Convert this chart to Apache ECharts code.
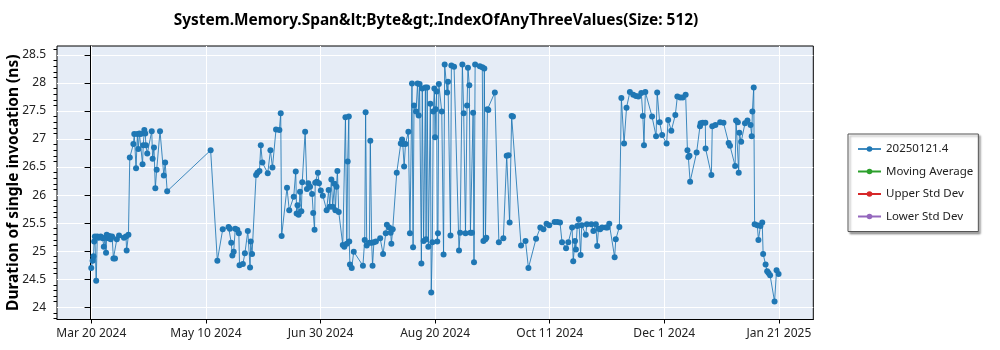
<!DOCTYPE html>
<html>
<head>
<meta charset="utf-8">
<script src="https://cdn.jsdelivr.net/npm/echarts@6/dist/echarts.min.js"></script>
<style>
html,body{margin:0;padding:0;background:#fff;}
#chart{width:1000px;height:350px;}
</style>
</head>
<body>
<div id="chart"></div>
<script>
// Day numbering: day 0 = 2024-03-20 00:00 UTC
const START_UTC = Date.UTC(2024, 2, 20);

// Days since 2024-03-20 for each run
const days = [
  0.3, 0.9, 1.3, 1.6, 1.9, 2.5, 3.0, 3.6, 4.5, 5.4, 5.9, 6.5, 6.9, 7.2, 8.0, 8.4, 9.0, 9.6, 10.2, 10.9,
  11.7, 12.7, 14.9, 15.8, 16.1, 16.9, 17.5, 19.1, 19.5, 20.3, 20.9, 21.3, 21.8, 22.4, 23.2, 23.5, 24.0, 24.4, 24.7, 25.3,
  27.3, 27.7, 28.3, 28.9, 29.5, 31.0, 32.7, 33.3, 34.2, 53.6,
  56.6, 59.0, 61.6, 62.2, 62.8, 63.3, 63.9, 64.6, 65.5, 66.2, 66.5, 68.0, 68.9, 70.2, 71.2, 71.5, 72.1,
  73.9, 74.5, 75.4, 76.0, 76.7, 79.1, 80.3, 81.2, 82.8, 84.3, 84.9, 85.3, 87.7, 88.7, 90.7, 91.6, 92.0, 92.4,
  92.9, 93.5, 94.1, 94.5, 95.8, 96.6, 97.2, 98.0, 98.9, 99.4, 100.0, 100.3, 101.0, 101.5, 102.0, 102.8, 103.7,
  105.4, 106.3, 106.8, 107.5, 108.1, 108.9, 109.3, 109.8, 110.2, 110.8, 112.6, 113.3, 113.8, 114.4, 114.8, 115.3,
  115.5, 115.8, 116.6, 117.5, 121.6, 122.4, 122.8, 123.3, 124.5, 124.9, 125.5, 125.9, 126.5, 127.4, 129.3, 130.6,
  131.8, 132.3, 133.3, 134.0, 134.3, 134.9, 136.7,
  138.5, 139.1, 139.4, 140.0, 140.6, 141.9, 142.6, 143.5, 144.0, 144.4, 145.3, 146.0, 146.5, 146.9, 147.7, 148.1,
  148.7, 149.5, 149.8, 150.3, 150.8, 151.7, 152.1, 152.6, 153.0, 153.5, 153.8, 154.1, 154.5, 154.8, 155.1, 155.5,
  156.8, 157.6, 158.1, 159.2, 159.6, 160.7, 161.1, 162.3, 164.5, 165.0, 166.0, 166.6, 167.4, 168.1, 168.5, 169.1,
  169.6, 170.3, 170.8, 171.2, 171.7, 173.8, 174.9, 175.4, 175.8, 176.3, 176.7, 177.2, 177.6, 180.5, 182.3, 184.3,
  185.8, 186.6, 187.1, 188.0, 188.6, 192.2, 194.2, 195.5, 198.9, 200.8, 202.2, 203.6, 204.8,
  207.2, 208.4, 209.6, 210.5, 212.3, 213.3, 215.0, 215.5, 216.3, 216.7, 217.3, 218.0, 218.8, 219.3, 221.1, 221.6,
  223.6, 224.5, 225.6, 226.2, 226.8, 227.5, 228.4, 230.1, 230.8, 231.6, 234.0, 234.5, 236.1,
  237.0, 238.2, 239.3, 240.8, 242.3, 243.5, 244.6, 245.9, 246.6, 247.1, 247.7, 250.7, 252.5, 253.0, 254.1, 255.2,
  257.2, 257.9, 259.3, 261.1, 262.0, 263.3, 264.4, 265.7, 266.5, 266.9, 267.4, 267.7, 270.6, 272.1,
  272.4, 273.3, 274.5, 274.6, 277.2, 277.6, 279.0, 281.1, 282.6, 284.9, 285.5, 287.8, 288.2, 289.0, 289.4, 289.7,
  290.5, 292.2, 293.3, 294.7, 295.2, 295.5, 296.1,
  296.5, 297.7, 298.2, 299.1, 299.9, 300.3, 301.4, 302.1, 302.7, 303.4, 305.4, 306.3, 307.2
];

// Duration of single invocation (ns)
const values = [
  24.70, 24.83, 24.91, 25.17, 25.26, 24.47, 25.26, 25.24, 25.26, 25.23, 25.08, 25.24, 24.97, 25.29, 25.23, 25.27, 25.21, 25.26, 24.87, 24.87,
  25.21, 25.28, 25.24, 25.26, 25.01, 25.29, 26.67, 26.91, 27.09, 26.48, 27.09, 26.82, 27.10, 27.09, 26.55, 26.89, 27.16, 27.10, 26.89, 26.74,
  27.14, 26.65, 26.85, 26.12, 26.45, 27.14, 26.35, 26.58, 26.07, 26.80,
  24.83, 25.39, 25.43, 25.40, 25.15, 24.92, 24.99, 25.40, 25.38, 25.32, 24.75, 24.77, 24.96, 25.36, 24.71, 25.17, 24.95,
  26.36, 26.40, 26.43, 26.89, 26.58, 26.39, 26.80, 26.49, 27.17, 27.16, 27.46, 25.27, 26.13, 25.73, 25.97, 26.42, 25.67, 25.82,
  25.65, 26.06, 25.71, 26.23, 27.13, 26.11, 26.21, 26.15, 26.02, 25.68, 25.38, 26.22, 26.24, 26.40, 26.21, 26.08, 25.99,
  25.73, 26.09, 25.79, 26.28, 25.79, 26.20, 25.73, 26.15, 26.43, 25.70, 25.11, 25.08, 27.39, 25.13, 26.60, 27.40,
  25.17, 24.76, 24.70, 24.99, 24.74, 25.20, 27.48, 25.10, 25.15, 26.97, 25.15, 24.74, 25.16, 25.17, 25.23, 24.95,
  25.32, 25.47, 25.42, 25.33, 25.13, 25.39, 26.40,
  26.92, 26.99, 26.91, 26.51, 26.91, 27.13, 25.32, 27.99, 25.07, 27.60, 27.49, 27.99, 27.42, 27.98, 24.78, 27.90,
  25.18, 27.92, 25.21, 27.92, 25.08, 27.63, 24.26, 25.16, 27.49, 27.90, 27.03, 27.53, 27.85, 25.17, 25.32, 27.98,
  27.49, 24.94, 28.33, 27.83, 28.02, 25.28, 28.31, 28.29, 25.01, 25.33, 28.33, 27.46, 25.32, 27.60, 28.27, 27.96,
  25.33, 25.33, 27.47, 24.80, 28.33, 28.30, 28.28, 25.18, 28.26, 25.21, 25.24, 27.53, 27.52, 27.83, 25.16, 25.23,
  26.70, 26.71, 25.51, 27.41, 27.40, 25.10, 25.18, 24.70, 25.22, 25.42, 25.39, 25.49, 25.46,
  25.52, 25.52, 25.51, 25.16, 25.05, 25.16, 25.42, 24.82, 25.18, 25.03, 25.45, 25.57, 24.93, 25.46, 25.29, 25.48,
  25.48, 25.36, 25.48, 25.09, 25.40, 25.39, 25.42, 25.42, 25.42, 25.49, 24.89, 25.21, 25.43,
  27.73, 26.92, 27.56, 27.84, 27.79, 27.77, 27.76, 27.82, 27.41, 26.89, 27.84, 27.40, 27.05, 27.83, 27.30, 27.07,
  26.92, 27.34, 27.15, 27.43, 27.76, 27.74, 27.74, 27.79, 26.80, 26.68, 26.70, 26.24, 26.76, 27.23,
  27.28, 27.29, 27.29, 26.83, 26.36, 27.23, 27.25, 27.30, 27.29, 26.93, 26.88, 26.52, 27.33, 27.30, 26.40, 27.11,
  26.95, 27.28, 27.33, 27.25, 27.05, 27.49, 27.92,
  25.48, 25.46, 25.20, 25.45, 25.51, 24.95, 24.76, 24.64, 24.61, 24.57, 24.10, 24.66, 24.59
];

const seriesNames = ['20250121.4', 'Moving Average', 'Upper Std Dev', 'Lower Std Dev'];
const seriesColors = ['#1f77b4', '#2ca02c', '#d62728', '#9467bd'];

// Date tick positions (days since start; evenly spaced every 51 d 4 h from Mar 20 08:00)
const xTickDays = [0.3333, 51.5, 102.6667, 153.8333, 205.0, 256.1667, 307.3333];
const yTickValues = [24, 24.5, 25, 25.5, 26, 26.5, 27, 27.5, 28, 28.5];
const yMinorTickValues = [];
for (let k = 238; k <= 286; k++) { if (k % 5 !== 0) yMinorTickValues.push(k / 10); }

const MONTHS = ['Jan','Feb','Mar','Apr','May','Jun','Jul','Aug','Sep','Oct','Nov','Dec'];
function dayLabel(d) {
  const dt = new Date(START_UTC + Math.floor(d) * 86400000);
  return MONTHS[dt.getUTCMonth()] + ' ' + dt.getUTCDate() + ' ' + dt.getUTCFullYear();
}

const FONT = '"Noto Sans", "Open Sans", sans-serif';
const chart = echarts.init(document.getElementById('chart'), null, {renderer: 'canvas'});

const X_MIN = -15.0, X_MAX = 322.7, Y_MIN = 23.78, Y_MAX = 28.66;

const option = {
  animation: false,
  backgroundColor: '#ffffff',
  textStyle: {fontFamily: FONT},
  title: {
    text: 'System.Memory.Span&lt;Byte&gt;.IndexOfAnyThreeValues(Size: 512)',
    left: 431, top: 8, textAlign: 'center',
    textStyle: {fontFamily: FONT, fontSize: 15.4, fontWeight: 'bold', color: '#000'}
  },
  legend: {
    orient: 'vertical',
    left: 848, top: 134,
    data: seriesNames,
    itemWidth: 23, itemHeight: 7, itemGap: 10.5,
    padding: [9, 5, 9, 9],
    backgroundColor: '#ffffff',
    borderColor: '#555', borderWidth: 1, borderRadius: 0,
    shadowColor: 'rgba(0,0,0,0.35)', shadowBlur: 2, shadowOffsetX: 2, shadowOffsetY: 2,
    textStyle: {fontFamily: FONT, fontSize: 11.5, color: '#222'}
  },
  grid: {
    left: 57, right: 186.7, top: 46, bottom: 30.5,
    containLabel: false, outerBoundsMode: 'none',
    show: true, backgroundColor: '#e5ecf6', borderColor: '#000', borderWidth: 1
  },
  xAxis: {
    type: 'value', min: X_MIN, max: X_MAX,
    axisLine: {show: true, lineStyle: {color: '#000', width: 1}},
    axisTick: {show: true, length: 4, customValues: xTickDays, lineStyle: {color: '#000'}},
    axisLabel: {customValues: xTickDays, formatter: dayLabel, margin: 8, fontFamily: FONT, fontSize: 12, color: '#222'},
    splitLine: {show: true, lineStyle: {color: '#ffffff', width: 1}}
  },
  yAxis: [{
    type: 'value', min: Y_MIN, max: Y_MAX,
    name: 'Duration of single invocation (ns)', nameLocation: 'middle', nameGap: 35,
    nameMoveOverlap: false,
    nameTextStyle: {fontFamily: FONT, fontSize: 15.5, fontWeight: 'bold', color: '#000'},
    axisLine: {show: true, lineStyle: {color: '#000', width: 1}},
    axisTick: {show: true, length: 6, customValues: yTickValues, lineStyle: {color: '#000'}},
    axisLabel: {customValues: yTickValues, margin: 11, fontFamily: FONT, fontSize: 12, color: '#222'},
    splitLine: {show: true, lineStyle: {color: '#ffffff', width: 1}}
  }, {
    type: 'value', min: Y_MIN, max: Y_MAX, position: 'left', offset: 0,
    axisLine: {show: false},
    axisTick: {show: true, length: 3.5, customValues: yMinorTickValues, lineStyle: {color: '#000'}},
    axisLabel: {show: false},
    splitLine: {show: false}
  }],
  series: [
    {
      name: seriesNames[0], type: 'line',
      data: days.map((d, i) => [d, values[i]]),
      color: seriesColors[0],
      symbol: 'circle', symbolSize: 6, showSymbol: true, showAllSymbol: true,
      lineStyle: {width: 1, color: seriesColors[0], opacity: 0.85},
      itemStyle: {color: seriesColors[0]}
    },
    {name: seriesNames[1], type: 'line', data: [], color: seriesColors[1], symbol: 'circle', symbolSize: 6, lineStyle: {width: 1}},
    {name: seriesNames[2], type: 'line', data: [], color: seriesColors[2], symbol: 'circle', symbolSize: 6, lineStyle: {width: 1}},
    {name: seriesNames[3], type: 'line', data: [], color: seriesColors[3], symbol: 'circle', symbolSize: 6, lineStyle: {width: 1}}
  ]
};
chart.setOption(option);
</script>
</body>
</html>
